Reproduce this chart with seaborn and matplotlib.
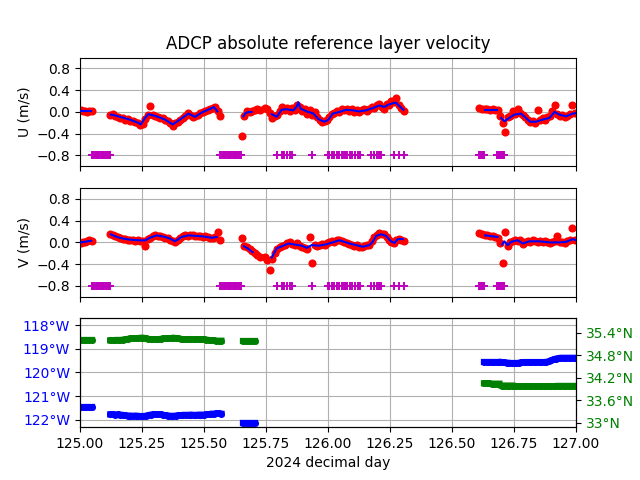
import numpy as np
import pandas as pd
import matplotlib
matplotlib.use("Agg")
import matplotlib.pyplot as plt
import seaborn as sns
from matplotlib.ticker import FuncFormatter

# ---- velocity ensembles: segment start/end (decimal day) ----
seg_start = [125.003, 125.121, 125.652, 125.746, 126.610, 126.695]
seg_end = [125.047, 125.565, 125.726, 126.306, 126.685, 126.995]

u_dots = [
    [0.03, 0.01, 0.02, 0.0, 0.02, 0.01],
    [-0.06, -0.04, -0.08, -0.09, -0.11, -0.12, -0.14, -0.13, -0.16, -0.17,
     -0.19, -0.21, -0.24, -0.22, -0.13, -0.05, 0.11, -0.06, -0.08, -0.09,
     -0.11, -0.12, -0.15, -0.16, -0.20, -0.25, -0.21, -0.18, -0.14, -0.11,
     -0.07, -0.02, -0.05, -0.09, -0.08, -0.05, -0.02, 0.0, 0.01, 0.04,
     0.06, 0.08, 0.09, 0.02, -0.08],
    [-0.44, -0.07, 0.01, 0.0, 0.02, 0.03, 0.05, 0.03],
    [0.08, 0.05, -0.02, -0.12, -0.08, -0.05, 0.02, 0.09, 0.03, 0.07,
     0.02, 0.08, 0.04, 0.12, 0.10, 0.02, 0.05, -0.03, 0.04, -0.05,
     -0.01, -0.10, -0.14, -0.19, -0.17, -0.14, -0.09, -0.04, -0.02, 0.02,
     -0.01, 0.05, 0.03, 0.06, 0.02, 0.05, 0.0, 0.04, -0.01, 0.03,
     0.06, 0.01, 0.05, 0.09, 0.07, 0.12, 0.14, 0.10, 0.06, 0.15,
     0.12, 0.20, 0.18, 0.25, 0.13, 0.07, 0.02],
    [0.07, 0.06, 0.05, 0.06, 0.04, 0.05, 0.03, 0.04],
    [-0.08, -0.20, -0.36, -0.10, -0.07, 0.02, -0.03, 0.05, -0.02, -0.06,
     -0.09, -0.15, -0.19, -0.17, -0.20, 0.03, -0.15, -0.12, -0.14, -0.10,
     -0.08, 0.02, 0.12, -0.04, -0.07, -0.06, -0.10, -0.08, -0.04, 0.12,
     -0.02],
]

v_dots = [
    [-0.01, 0.01, 0.0, 0.02, 0.04, 0.03],
    [0.15, 0.13, 0.11, 0.10, 0.08, 0.07, 0.06, 0.05, 0.04, 0.05,
     0.03, 0.04, 0.03, 0.02, -0.06, 0.06, 0.09, 0.11, 0.13, 0.12,
     0.11, 0.10, 0.09, 0.08, 0.05, 0.03, 0.01, 0.05, 0.09, 0.12,
     0.13, 0.12, 0.14, 0.13, 0.11, 0.12, 0.11, 0.10, 0.12, 0.10,
     0.08, 0.09, 0.10, 0.20, 0.05],
    [0.08, -0.06, -0.09, -0.12, -0.16, -0.20, -0.24, -0.27],
    [-0.27, -0.33, -0.50, -0.30, -0.20, -0.12, -0.09, -0.07, -0.04, -0.02,
     0.0, -0.03, -0.05, -0.02, -0.07, -0.08, -0.10, -0.12, 0.10, -0.38,
     -0.04, -0.07, -0.05, -0.03, -0.05, -0.02, 0.0, 0.02, 0.01, 0.05,
     0.04, 0.02, 0.0, -0.01, -0.03, -0.04, -0.06, -0.04, -0.09, -0.08,
     -0.07, -0.05, -0.04, 0.02, 0.10, 0.14, 0.17, 0.16, 0.15, 0.10,
     0.05, 0.0, -0.02, 0.04, 0.07, 0.05, 0.03],
    [0.18, 0.16, 0.14, 0.13, 0.12, 0.11, 0.10, 0.09],
    [-0.02, -0.38, 0.19, -0.07, 0.0, 0.03, 0.05, 0.02, 0.04, -0.03,
     0.0, 0.03, 0.01, 0.04, 0.02, 0.0, 0.03, 0.01, 0.02, 0.0,
     -0.01, 0.01, 0.02, 0.11, 0.0, 0.01, -0.01, 0.02, 0.04, 0.27,
     0.05],
]

# ---- smoothed (blue) line ----
u_line_t = [
    [125.003, 125.045],
    [125.124, 125.134, 125.161, 125.2, 125.235, 125.245, 125.262, 125.276, 125.309,
     125.343, 125.374, 125.403, 125.437, 125.464, 125.491, 125.517, 125.540, 125.554],
    [125.659, 125.668, 125.680, 125.692],
    [125.773, 125.793, 125.813, 125.833, 125.860, 125.874, 125.880, 125.890, 125.914,
     125.941, 125.961, 125.985, 126.0, 126.019, 126.046, 126.073, 126.100, 126.126,
     126.153, 126.180, 126.207, 126.227, 126.241, 126.261, 126.274, 126.290, 126.304],
    [126.634, 126.680],
    [126.698, 126.711, 126.731, 126.751, 126.778, 126.798, 126.815, 126.839, 126.866,
     126.893, 126.913, 126.933, 126.960, 126.987, 127.0],
]
u_line = [
    [0.02, 0.02],
    [-0.05, -0.055, -0.09, -0.14, -0.20, -0.23, -0.11, -0.04, -0.08,
     -0.14, -0.23, -0.14, -0.03, -0.09, -0.01, 0.04, 0.09, 0.01],
    [-0.08, -0.02, 0.0, 0.0],
    [-0.04, -0.09, 0.04, 0.05, 0.03, 0.10, 0.18, 0.06, 0.01,
     -0.03, -0.13, -0.18, -0.15, -0.03, 0.0, 0.04, 0.03, 0.01,
     0.03, 0.07, 0.12, 0.09, 0.13, 0.16, 0.17, 0.10, 0.04],
    [0.04, 0.04],
    [-0.11, -0.17, -0.11, -0.05, -0.03, -0.11, -0.18, -0.18, -0.14,
     -0.11, 0.0, -0.05, -0.08, -0.03, -0.02],
]

v_line_t = [
    [125.003, 125.045],
    [125.124, 125.148, 125.175, 125.202, 125.235, 125.262, 125.282, 125.309, 125.343,
     125.363, 125.383, 125.410, 125.437, 125.464, 125.497, 125.531, 125.551],
    [125.661, 125.679, 125.696],
    [125.773, 125.793, 125.820, 125.840, 125.867, 125.894, 125.914, 125.934, 125.961,
     125.988, 126.019, 126.046, 126.066, 126.086, 126.113, 126.140, 126.167, 126.180,
     126.194, 126.214, 126.234, 126.254, 126.268, 126.281, 126.301],
    [126.634, 126.684],
    [126.702, 126.711, 126.725, 126.738, 126.765, 126.785, 126.812, 126.852, 126.893,
     126.933, 126.960, 126.987, 127.0],
]
v_line = [
    [0.0, 0.03],
    [0.15, 0.10, 0.07, 0.05, 0.04, 0.035, 0.085, 0.13, 0.10,
     0.07, 0.02, 0.10, 0.13, 0.12, 0.11, 0.085, 0.10],
    [-0.07, -0.12, -0.18],
    [-0.28, -0.11, -0.06, -0.02, -0.04, -0.06, -0.10, -0.05, -0.06,
     -0.04, 0.0, 0.04, 0.01, -0.02, -0.05, -0.08, -0.05, 0.01,
     0.12, 0.15, 0.12, 0.02, -0.01, 0.06, 0.06],
    [0.13, 0.10],
    [-0.04, 0.02, -0.05, 0.01, 0.04, -0.02, 0.02, 0.02, 0.0,
     0.0, 0.01, 0.06, 0.04],
]

# flagged ensembles (drawn at -0.8)
flag_t = [125.048, 125.053, 125.058, 125.063, 125.068, 125.073, 125.078, 125.083,
          125.088, 125.093, 125.098, 125.103, 125.108, 125.113, 125.118, 125.121,
          125.565, 125.570, 125.575, 125.580, 125.585, 125.590, 125.595, 125.600,
          125.605, 125.610, 125.615, 125.620, 125.625, 125.630, 125.635, 125.640,
          125.645, 125.651,
          125.796, 125.813, 125.818, 125.823, 125.836, 125.846, 125.856, 125.934,
          126.001, 126.005, 126.016, 126.025, 126.035, 126.046, 126.056, 126.066,
          126.070, 126.074, 126.078, 126.088, 126.097, 126.109, 126.120, 126.129,
          126.173, 126.187, 126.196, 126.205, 126.210, 126.215,
          126.268, 126.288, 126.308,
          126.607, 126.611, 126.615, 126.619, 126.623, 126.627, 126.631,
          126.681, 126.685, 126.689, 126.693, 126.697, 126.701, 126.705, 126.708]
flag_level = -0.8

# ---- ship position ----
nav_start = [125.003, 125.122, 125.657, 126.629, 126.700]
nav_end = [125.048, 125.570, 125.704, 126.691, 127.000]
lon = [
    [-121.44] * 5,
    [-121.77, -121.77, -121.78, -121.77, -121.78, -121.79, -121.81, -121.82, -121.82,
     -121.83, -121.82, -121.83, -121.84, -121.84, -121.83, -121.80, -121.78, -121.77,
     -121.76, -121.76, -121.77, -121.79, -121.81, -121.82, -121.83, -121.83, -121.82,
     -121.81, -121.80, -121.79, -121.79, -121.79, -121.78, -121.79, -121.79, -121.78,
     -121.78, -121.78, -121.77, -121.76, -121.74, -121.74, -121.73, -121.73, -121.74],
    [-122.12] * 5,
    [-119.55] * 7,
    [-119.56, -119.57, -119.58, -119.59, -119.60, -119.60, -119.60, -119.59, -119.57,
     -119.56, -119.56, -119.56, -119.56, -119.56, -119.56, -119.56, -119.56, -119.56,
     -119.55, -119.53, -119.48, -119.44, -119.41, -119.39, -119.38, -119.38, -119.38,
     -119.38, -119.38, -119.38, -119.38],
]
lat = [
    [35.22] * 5,
    [35.20, 35.20, 35.21, 35.21, 35.21, 35.22, 35.23, 35.24, 35.25,
     35.25, 35.25, 35.26, 35.27, 35.27, 35.26, 35.24, 35.23, 35.23,
     35.23, 35.23, 35.24, 35.25, 35.25, 35.26, 35.26, 35.27, 35.26,
     35.25, 35.24, 35.23, 35.23, 35.23, 35.23, 35.23, 35.23, 35.23,
     35.23, 35.23, 35.22, 35.21, 35.20, 35.20, 35.19, 35.19, 35.19],
    [35.19] * 5,
    [34.05, 34.05, 34.05, 34.04, 34.04, 34.04, 34.04],
    [33.99] * 6 + [33.97] * 16 + [33.98] * 9,
]


def seg_frame(starts, ends, values):
    parts = []
    for k, (t0, t1) in enumerate(zip(starts, ends)):
        vals = values[k]
        parts.append(pd.DataFrame({"t": np.linspace(t0, t1, len(vals)),
                                   "val": vals, "seg": k}))
    return pd.concat(parts, ignore_index=True)


def line_frame(times, values):
    parts = [pd.DataFrame({"t": tt, "val": vv, "seg": k})
             for k, (tt, vv) in enumerate(zip(times, values))]
    return pd.concat(parts, ignore_index=True)


fig, axs = plt.subplots(3, 1, sharex=True, figsize=(6.4, 4.8), dpi=100)

flags = pd.DataFrame({"t": flag_t, "val": flag_level})
panels = [(axs[0], u_dots, u_line_t, u_line, "U (m/s)"),
          (axs[1], v_dots, v_line_t, v_line, "V (m/s)")]
for ax, dots, lt, lv, lab in panels:
    d = seg_frame(seg_start, seg_end, dots)
    sns.scatterplot(data=d, x="t", y="val", color="r", s=34, linewidth=0,
                    ax=ax, zorder=2)
    sm = line_frame(lt, lv)
    sns.lineplot(data=sm, x="t", y="val", units="seg", estimator=None,
                 color="b", linewidth=1.5, ax=ax, zorder=3)
    sns.scatterplot(data=flags, x="t", y="val", marker="+", color="m", s=36,
                    linewidth=1.4, ax=ax, zorder=4)
    ax.set_ylim(-1, 1)
    ax.set_yticks([-0.8, -0.4, 0.0, 0.4, 0.8])
    ax.set_ylabel(lab)
    ax.set_xlabel("")
    ax.grid(True)

axs[0].set_title("ADCP absolute reference layer velocity")

# bottom panel: longitude (left) and latitude (right)
ax3 = axs[2]
lon_df = seg_frame(nav_start, nav_end, lon)
lat_df = seg_frame(nav_start, nav_end, lat)
sns.lineplot(data=lon_df, x="t", y="val", units="seg", estimator=None,
             color="b", linewidth=4.5, ax=ax3, zorder=2)
sns.scatterplot(data=lon_df, x="t", y="val", color="b", s=26, linewidth=0,
                ax=ax3, zorder=2)
ax3.set_ylim(-122.31, -117.72)
ax3.set_yticks([-122, -121, -120, -119, -118])
ax3.yaxis.set_major_formatter(FuncFormatter(lambda v, p: f"{-v:g}°W"))
ax3.tick_params(axis="y", labelcolor="b")
ax3.set_ylabel("")
ax3.grid(True)

ax4 = ax3.twinx()
sns.lineplot(data=lat_df, x="t", y="val", units="seg", estimator=None,
             color="g", linewidth=4.5, ax=ax4, zorder=2)
sns.scatterplot(data=lat_df, x="t", y="val", color="g", s=26, linewidth=0,
                ax=ax4, zorder=2)
ax4.set_ylim(32.875, 35.785)
ax4.set_yticks([33.0, 33.6, 34.2, 34.8, 35.4])
ax4.yaxis.set_major_formatter(FuncFormatter(lambda v, p: f"{v:g}°N"))
ax4.tick_params(axis="y", labelcolor="g")
ax4.set_ylabel("")

ax3.set_xlim(125, 127)
ax3.set_xticks(np.arange(125, 127.01, 0.25))
ax3.xaxis.set_major_formatter(FuncFormatter(lambda v, p: f"{v:.2f}"))
ax3.set_xlabel("2024 decimal day")

fig.savefig("out.png", dpi=100)
